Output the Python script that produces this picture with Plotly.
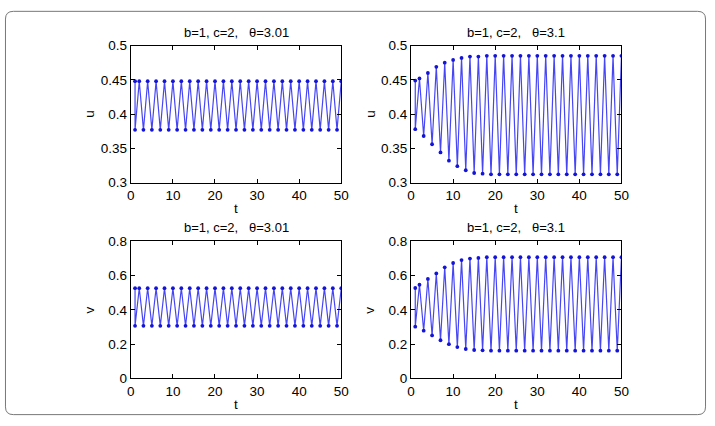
import plotly.graph_objects as go

# time index (first instant carries both the initial value and the first iterate)
t = [1] + list(range(1, 51))

u_left = [0.448, 0.377, 0.448, 0.377, 0.448, 0.377, 0.448, 0.377, 0.448, 0.377,
          0.448, 0.377, 0.448, 0.377, 0.448, 0.377, 0.448, 0.377, 0.448, 0.377,
          0.448, 0.377, 0.448, 0.377, 0.448, 0.377, 0.448, 0.377, 0.448, 0.377,
          0.448, 0.377, 0.448, 0.377, 0.448, 0.377, 0.448, 0.377, 0.448, 0.377,
          0.448, 0.377, 0.448, 0.377, 0.448, 0.377, 0.448, 0.377, 0.448, 0.377,
          0.448]

v_left = [0.527, 0.307, 0.527, 0.307, 0.527, 0.307, 0.527, 0.307, 0.527, 0.307,
          0.527, 0.307, 0.527, 0.307, 0.527, 0.307, 0.527, 0.307, 0.527, 0.307,
          0.527, 0.307, 0.527, 0.307, 0.527, 0.307, 0.527, 0.307, 0.527, 0.307,
          0.527, 0.307, 0.527, 0.307, 0.527, 0.307, 0.527, 0.307, 0.527, 0.307,
          0.527, 0.307, 0.527, 0.307, 0.527, 0.307, 0.527, 0.307, 0.527, 0.307,
          0.527]

u_right = [0.449, 0.378, 0.452, 0.368, 0.460, 0.356, 0.469, 0.344, 0.475, 0.332,
           0.479, 0.324, 0.482, 0.318, 0.484, 0.314, 0.484, 0.313, 0.485, 0.312,
           0.485, 0.312, 0.485, 0.312, 0.485, 0.312, 0.485, 0.312, 0.485, 0.312,
           0.485, 0.312, 0.485, 0.312, 0.485, 0.312, 0.485, 0.312, 0.485, 0.312,
           0.485, 0.312, 0.485, 0.312, 0.485, 0.312, 0.485, 0.312, 0.485, 0.312,
           0.485]

v_right = [0.528, 0.302, 0.547, 0.279, 0.581, 0.251, 0.613, 0.223, 0.649, 0.200,
           0.674, 0.183, 0.691, 0.172, 0.700, 0.166, 0.704, 0.164, 0.708, 0.162,
           0.708, 0.162, 0.708, 0.162, 0.708, 0.162, 0.708, 0.162, 0.708, 0.162,
           0.708, 0.162, 0.708, 0.162, 0.708, 0.162, 0.708, 0.162, 0.708, 0.162,
           0.708, 0.162, 0.708, 0.162, 0.708, 0.162, 0.708, 0.162, 0.708, 0.162,
           0.708]

titles = ["b=1, c=2, \u00a0\u00a0\u03b8=3.01", "b=1, c=2, \u00a0\u00a0\u03b8=3.1",
          "b=1, c=2, \u00a0\u00a0\u03b8=3.01", "b=1, c=2, \u00a0\u00a0\u03b8=3.1"]
ylabels = ["u", "u", "v", "v"]
x_ticks = [0, 10, 20, 30, 40, 50]
u_ticks = [0.3, 0.35, 0.4, 0.45, 0.5]
u_ticktext = ["0.3", "0.35", "0.4", "0.45", "0.5"]
v_ticks = [0, 0.2, 0.4, 0.6, 0.8]
v_ticktext = ["0", "0.2", "0.4", "0.6", "0.8"]

W, H = 715, 426
FONT = "Liberation Sans, Arial, sans-serif"

# panel boxes in pixels: (left, right, top, bottom)
boxes = [(129, 343, 40, 182), (414, 628, 40, 182),
         (129, 343, 243, 385), (414, 628, 243, 385)]

series = [u_left, u_right, v_left, v_right]

fig = go.Figure()
layout = dict(width=W, height=H, margin=dict(l=0, r=0, t=0, b=0),
              paper_bgcolor="white", plot_bgcolor="white", showlegend=False,
              font=dict(family=FONT, size=13, color="black"))
annotations = []

for i, (vals, box) in enumerate(zip(series, boxes)):
    n = i + 1
    xa = "x" if n == 1 else f"x{n}"
    ya = "y" if n == 1 else f"y{n}"
    fig.add_trace(go.Scatter(
        x=t, y=vals, xaxis=xa, yaxis=ya, mode="lines+markers",
        line=dict(color="rgb(70,70,245)", width=1.2),
        marker=dict(color="rgb(20,20,215)", size=3.8),
        hoverinfo="skip"))
    l, r, tp, bt = box
    xdom = [l / W, r / W]
    ydom = [1 - bt / H, 1 - tp / H]
    common = dict(showline=True, linecolor="black", linewidth=1, mirror="ticks",
                  ticks="inside", ticklen=4, tickcolor="black", showgrid=False,
                  zeroline=False, tickfont=dict(family=FONT, size=13.5, color="black"))
    xkey = "xaxis" if n == 1 else f"xaxis{n}"
    ykey = "yaxis" if n == 1 else f"yaxis{n}"
    layout[xkey] = dict(domain=xdom, range=[0, 50], tickvals=x_ticks,
                        anchor=ya, **common)
    if i < 2:
        layout[ykey] = dict(domain=ydom, range=[0.3, 0.5], tickvals=u_ticks,
                            ticktext=u_ticktext, anchor=xa, **common)
    else:
        layout[ykey] = dict(domain=ydom, range=[0, 0.8], tickvals=v_ticks,
                            ticktext=v_ticktext, anchor=xa, **common)
    cx = (l + r) / 2
    cy = (tp + bt) / 2
    annotations.append(dict(text=titles[i], xref="paper", yref="paper",
                            x=cx / W, y=1 - (tp - 14) / H, xanchor="center",
                            yanchor="middle", showarrow=False,
                            font=dict(family=FONT, size=13, color="black")))
    annotations.append(dict(text="t", xref="paper", yref="paper",
                            x=cx / W, y=1 - (bt + 27) / H, xanchor="center",
                            yanchor="middle", showarrow=False,
                            font=dict(family=FONT, size=13.5, color="black")))
    annotations.append(dict(text=ylabels[i], xref="paper", yref="paper",
                            x=(l - 42) / W, y=1 - cy / H, xanchor="center",
                            yanchor="middle", textangle=-90, showarrow=False,
                            font=dict(family=FONT, size=13.5, color="black")))

layout["annotations"] = annotations

# rounded outer frame
x0, x1 = 1.5 / W, 713.5 / W
yt, yb = 1 - 4.5 / H, 1 - 422.5 / H
rx, ry = 8 / W, 8 / H
path = (f"M {x0+rx},{yt} L {x1-rx},{yt} Q {x1},{yt} {x1},{yt-ry} "
        f"L {x1},{yb+ry} Q {x1},{yb} {x1-rx},{yb} L {x0+rx},{yb} "
        f"Q {x0},{yb} {x0},{yb+ry} L {x0},{yt-ry} Q {x0},{yt} {x0+rx},{yt} Z")
layout["shapes"] = [dict(type="path", path=path, xref="paper", yref="paper",
                         line=dict(color="rgb(120,120,120)", width=1))]

fig.update_layout(**layout)
fig.write_html("out.html")
